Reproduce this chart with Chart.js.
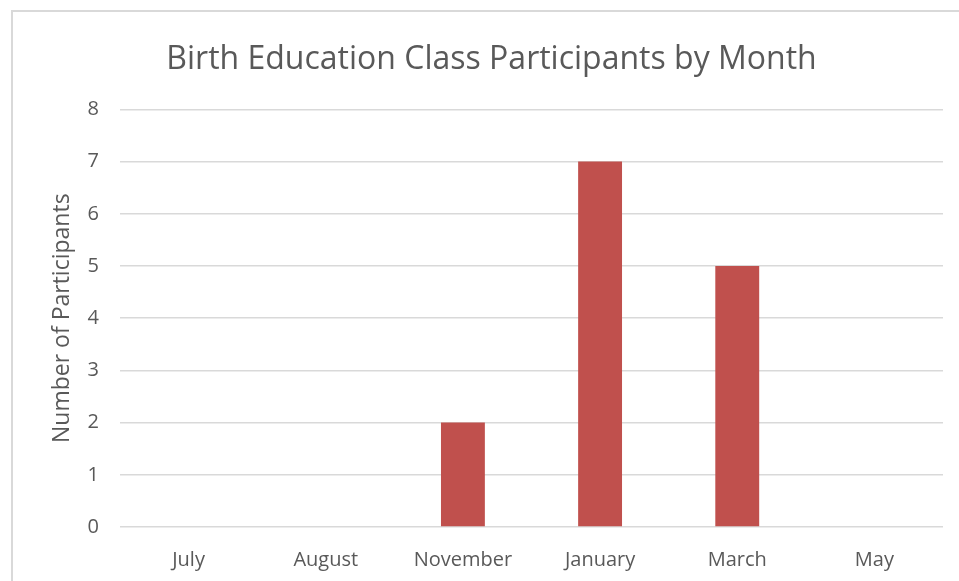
<!DOCTYPE html>
<html>
<head>
<meta charset="utf-8">
<script src="https://cdn.jsdelivr.net/npm/chart.js@4"></script>
<style>
  html, body { margin: 0; padding: 0; background: #fff; overflow: hidden; }
  #wrap { position: relative; width: 959px; height: 581px; }
  #frame { position: absolute; left: 11px; top: 10px; width: 1000px; height: 700px;
           border: 2px solid #d9d9d9; box-sizing: border-box; pointer-events: none; }
  canvas { position: absolute; left: 0; top: 0; }
</style>
</head>
<body>
<div id="wrap">
  <canvas id="myChart" width="959" height="581"></canvas>
  <div id="frame"></div>
</div>
<script>
const months = ['July', 'August', 'November', 'January', 'March', 'May'];
const participants = [0, 0, 2, 7, 5, 0];
const yTicks = [0, 1, 2, 3, 4, 5, 6, 7, 8];

const textColor = '#595959';
const font = "'Open Sans', sans-serif";

const ctx = document.getElementById('myChart');

new Chart(ctx, {
  type: 'bar',
  data: {
    labels: months,
    datasets: [{
      data: participants,
      backgroundColor: '#c0504d',
      barPercentage: 0.32,
      categoryPercentage: 1
    }]
  },
  options: {
    responsive: false,
    animation: false,
    layout: {
      padding: { left: 40, right: 16, top: 0, bottom: 0 }
    },
    scales: {
      x: {
        grid: { display: false },
        border: { display: false },
        ticks: {
          color: textColor,
          font: { family: font, size: 20 },
          padding: 13
        },
        afterFit: (scale) => { scale.height = 54; }
      },
      y: {
        min: 0,
        max: 8,
        afterBuildTicks: (scale) => {
          scale.ticks = yTicks.map(v => ({ value: v }));
        },
        grid: { color: '#d9d9d9', lineWidth: 1.5, drawTicks: false },
        border: { display: false },
        ticks: {
          color: textColor,
          font: { family: font, size: 20 },
          padding: 21
        },
        title: {
          display: true,
          text: 'Number of Participants',
          color: textColor,
          font: { family: font, size: 23 },
          padding: { top: 9, bottom: 0 }
        },
        afterFit: (scale) => { scale.width = 80; }
      }
    },
    plugins: {
      legend: { display: false },
      tooltip: { enabled: false },
      title: {
        display: true,
        text: 'Birth Education Class Participants by Month',
        color: textColor,
        font: { family: font, size: 32, weight: 'normal' },
        padding: { top: 41, bottom: 30 }
      }
    }
  }
});
</script>
</body>
</html>
